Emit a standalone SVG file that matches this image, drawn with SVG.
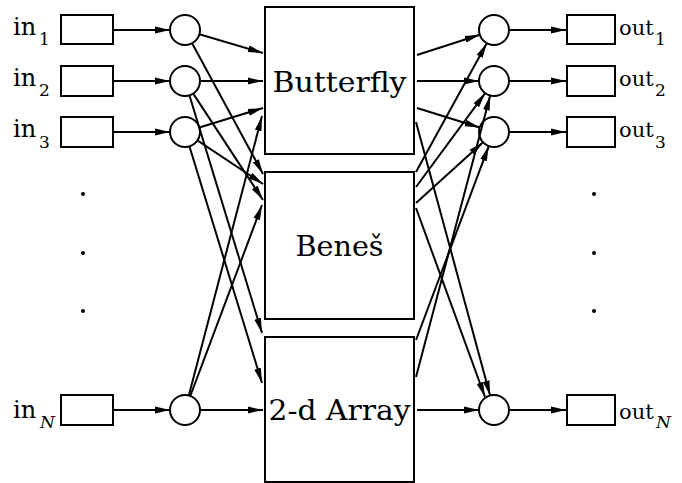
<svg xmlns="http://www.w3.org/2000/svg" width="682" height="483" viewBox="0 0 682 483">
<defs>
<marker id="ah" markerUnits="userSpaceOnUse" markerWidth="16" markerHeight="8" refX="15" refY="4" orient="auto">
<path d="M0,0.6 L15,4 L0,7.4 z" fill="#000"/>
</marker>
<style>
.n{fill:#fff;stroke:#000;stroke-width:2}
.c line{stroke:#000;stroke-width:2;marker-end:url(#ah)}
text{font-family:"DejaVu Serif","Liberation Serif",serif;fill:#000}
.lb{font-size:24px}
.ob{font-size:21px}
.sb{font-size:17px}
.it{font-style:italic}
.bx{font-size:28px;text-anchor:middle}
</style>
</defs>
<rect width="682" height="483" fill="#fff"/>

<g id="in1"><rect class="n" x="61" y="15" width="52" height="29"/><text class="lb" x="13" y="35">in<tspan class="sb" x="39" dy="10">1</tspan></text></g>
<g id="in2"><rect class="n" x="61" y="66" width="52" height="30"/><text class="lb" x="13" y="86">in<tspan class="sb" x="39" dy="10">2</tspan></text></g>
<g id="in3"><rect class="n" x="61" y="117" width="52" height="30"/><text class="lb" x="13" y="137">in<tspan class="sb" x="39" dy="11">3</tspan></text></g>
<g id="inN"><rect class="n" x="61" y="395" width="52" height="30"/><text class="lb" x="13" y="418">in<tspan class="sb it" x="40" dy="10">N</tspan></text></g>

<g id="c1"><circle class="n" cx="185" cy="30" r="15"/></g>
<g id="c2"><circle class="n" cx="185" cy="81" r="15"/></g>
<g id="c3"><circle class="n" cx="185" cy="132" r="15"/></g>
<g id="cN"><circle class="n" cx="185" cy="410" r="15"/></g>

<g id="butterfly"><rect class="n" x="265" y="7" width="149" height="147"/><text class="bx" x="339.5" y="92" textLength="134" lengthAdjust="spacingAndGlyphs">Butterfly</text></g>
<g id="benes"><rect class="n" x="265" y="172" width="149" height="147"/><text class="bx" x="339.5" y="256" textLength="88" lengthAdjust="spacingAndGlyphs">Beneš</text></g>
<g id="array"><rect class="n" x="265" y="337" width="149" height="145"/><text class="bx" x="339.5" y="420" textLength="142" lengthAdjust="spacingAndGlyphs">2-d Array</text></g>

<g id="o1"><circle class="n" cx="494" cy="30" r="15"/></g>
<g id="o2"><circle class="n" cx="494" cy="81" r="15"/></g>
<g id="o3"><circle class="n" cx="494" cy="132" r="15"/></g>
<g id="oN"><circle class="n" cx="494" cy="410" r="15"/></g>

<g id="out1"><rect class="n" x="567" y="15" width="48" height="29"/><text class="ob" x="619" y="35">out<tspan class="sb" x="655" dy="10">1</tspan></text></g>
<g id="out2"><rect class="n" x="567" y="66" width="48" height="30"/><text class="ob" x="619" y="86">out<tspan class="sb" x="655" dy="10">2</tspan></text></g>
<g id="out3"><rect class="n" x="567" y="117" width="48" height="30"/><text class="ob" x="619" y="137">out<tspan class="sb" x="655" dy="11">3</tspan></text></g>
<g id="outN"><rect class="n" x="567" y="395" width="48" height="30"/><text class="ob" x="619" y="419">out<tspan class="sb it" x="656" dy="9">N</tspan></text></g>

<g id="dots" fill="#000">
<circle cx="83" cy="194" r="2"/><circle cx="83" cy="253" r="2"/><circle cx="83" cy="311" r="2"/>
<circle cx="594" cy="194" r="2"/><circle cx="594" cy="253" r="2"/><circle cx="594" cy="311" r="2"/>
</g>

<g id="connectors" class="c">
<line x1="113" y1="30" x2="170" y2="30"/>
<line x1="113" y1="81" x2="170" y2="81"/>
<line x1="113" y1="132" x2="170" y2="132"/>
<line x1="113" y1="410" x2="170" y2="410"/>
<line x1="509" y1="30" x2="566" y2="30"/>
<line x1="509" y1="81" x2="566" y2="81"/>
<line x1="509" y1="132" x2="566" y2="132"/>
<line x1="509" y1="410" x2="566" y2="410"/>

<line x1="199.4" y1="34.3" x2="263" y2="53"/>
<line x1="192.1" y1="43.2" x2="263" y2="174"/>
<line x1="200" y1="81" x2="263" y2="81"/>
<line x1="193.2" y1="93.6" x2="263" y2="200"/>
<line x1="189.4" y1="95.3" x2="262" y2="333"/>
<line x1="199.3" y1="127.5" x2="263" y2="108"/>
<line x1="197.4" y1="140.4" x2="263" y2="184"/>
<line x1="189.4" y1="146.3" x2="262" y2="383"/>
<line x1="188.8" y1="395.5" x2="262" y2="116"/>
<line x1="190.3" y1="396" x2="262" y2="205"/>
<line x1="200" y1="410" x2="263" y2="410"/>

<line x1="417" y1="55" x2="479.8" y2="34.7"/>
<line x1="417" y1="81" x2="479" y2="81"/>
<line x1="417" y1="108" x2="479.7" y2="127.5"/>
<line x1="416" y1="122" x2="490.1" y2="395.5"/>
<line x1="416" y1="172" x2="486.8" y2="43.2"/>
<line x1="416" y1="187" x2="485.2" y2="93.1"/>
<line x1="416" y1="203" x2="483" y2="142.2"/>
<line x1="416" y1="208" x2="485" y2="397"/>
<line x1="416" y1="340" x2="488.8" y2="146.1"/>
<line x1="416" y1="377" x2="490.2" y2="95.5"/>
<line x1="417" y1="410" x2="479" y2="410"/>
</g>
</svg>
